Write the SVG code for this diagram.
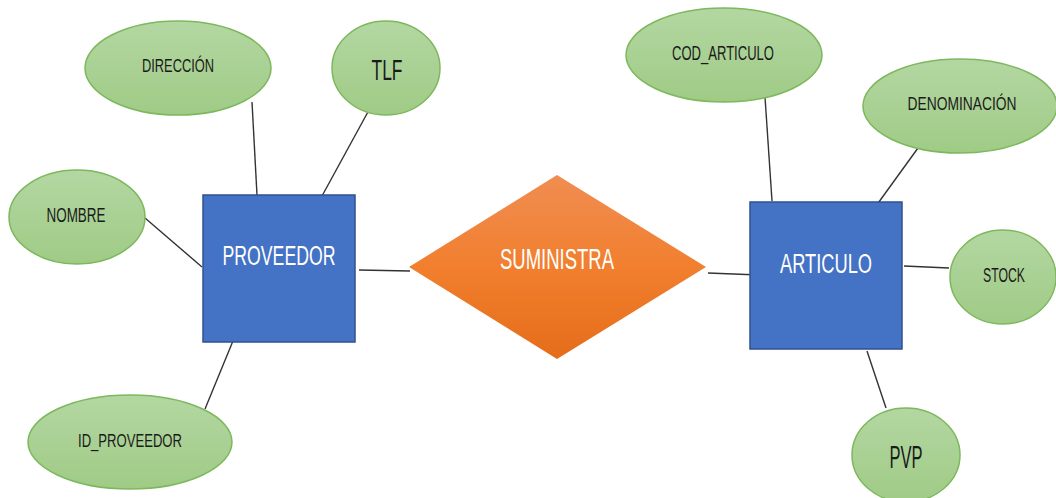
<svg xmlns="http://www.w3.org/2000/svg" width="1056" height="498" viewBox="0 0 1056 498">
  <defs>
    <linearGradient id="gAttr" x1="0" y1="0" x2="0" y2="1">
      <stop offset="0" stop-color="#B3D7A2"/>
      <stop offset="1" stop-color="#A0CB86"/>
    </linearGradient>
    <linearGradient id="gRel" x1="0" y1="0" x2="0" y2="1">
      <stop offset="0" stop-color="#F08D52"/>
      <stop offset="0.5" stop-color="#F17F2E"/>
      <stop offset="1" stop-color="#E56D1A"/>
    </linearGradient>
  </defs>
  <style>
    .attr { fill: url(#gAttr); stroke: #7DB85C; stroke-width: 1.5; }
    .ent { fill: #4472C4; stroke: #2F528F; stroke-width: 1.5; }
    .rel { fill: url(#gRel); stroke: none; }
    .lbl { font-family: "Liberation Sans", Arial, sans-serif; fill: #1A1A1A; text-anchor: middle; }
    .wlbl { font-family: "Liberation Sans", Arial, sans-serif; fill: #FFFFFF; text-anchor: middle; }
    .conn line { stroke: #333333; stroke-width: 1.4; }
  </style>

  <!-- connectors -->
  <g id="connectors" class="conn">
    <line x1="252" y1="102" x2="257" y2="195"/>
    <line x1="369" y1="110" x2="322" y2="196"/>
    <line x1="145" y1="218" x2="202" y2="267"/>
    <line x1="235" y1="336" x2="205" y2="409"/>
    <line x1="359" y1="270" x2="410" y2="271"/>
    <line x1="708" y1="273" x2="759" y2="275"/>
    <line x1="765" y1="97" x2="772" y2="201"/>
    <line x1="918" y1="148" x2="876" y2="206"/>
    <line x1="904" y1="266" x2="949" y2="268"/>
    <line x1="867" y1="351" x2="886" y2="408"/>
  </g>

  <!-- PROVEEDOR entity and its attributes -->
  <g id="proveedor">
    <rect class="ent" x="203" y="195" width="152" height="147"/>
    <text class="wlbl" x="279" y="265" font-size="27" textLength="113" lengthAdjust="spacingAndGlyphs">PROVEEDOR</text>
  </g>
  <g id="direccion">
    <ellipse class="attr" cx="178" cy="68" rx="93" ry="47"/>
    <text class="lbl" x="178" y="72" font-size="18" textLength="72" lengthAdjust="spacingAndGlyphs">DIRECCIÓN</text>
  </g>
  <g id="tlf">
    <ellipse class="attr" cx="386" cy="68" rx="54" ry="47"/>
    <text class="lbl" x="387" y="80" font-size="30" textLength="31" lengthAdjust="spacingAndGlyphs">TLF</text>
  </g>
  <g id="nombre">
    <ellipse class="attr" cx="77" cy="217" rx="68" ry="47"/>
    <text class="lbl" x="76" y="222" font-size="20" textLength="59" lengthAdjust="spacingAndGlyphs">NOMBRE</text>
  </g>
  <g id="id_proveedor">
    <ellipse class="attr" cx="130" cy="442" rx="102" ry="47"/>
    <text class="lbl" x="130" y="447" font-size="19" textLength="104" lengthAdjust="spacingAndGlyphs">ID_PROVEEDOR</text>
  </g>

  <!-- SUMINISTRA relationship -->
  <g id="suministra">
    <polygon class="rel" points="409,267 557,175 706,267 557,359"/>
    <text class="wlbl" x="557" y="269" font-size="30" textLength="114" lengthAdjust="spacingAndGlyphs">SUMINISTRA</text>
  </g>

  <!-- ARTICULO entity and its attributes -->
  <g id="articulo">
    <rect class="ent" x="750" y="202" width="152" height="147"/>
    <text class="wlbl" x="826" y="273" font-size="27" textLength="92" lengthAdjust="spacingAndGlyphs">ARTICULO</text>
  </g>
  <g id="cod_articulo">
    <ellipse class="attr" cx="724" cy="55" rx="98" ry="47"/>
    <text class="lbl" x="723" y="60" font-size="20" textLength="102" lengthAdjust="spacingAndGlyphs">COD_ARTICULO</text>
  </g>
  <g id="denominacion">
    <ellipse class="attr" cx="960" cy="106" rx="97" ry="47"/>
    <text class="lbl" x="962" y="110" font-size="19" textLength="109" lengthAdjust="spacingAndGlyphs">DENOMINACIÓN</text>
  </g>
  <g id="stock">
    <ellipse class="attr" cx="1003" cy="277" rx="53" ry="47"/>
    <text class="lbl" x="1004" y="282" font-size="20" textLength="42" lengthAdjust="spacingAndGlyphs">STOCK</text>
  </g>
  <g id="pvp">
    <ellipse class="attr" cx="906" cy="455" rx="54" ry="47"/>
    <text class="lbl" x="906" y="468" font-size="32" textLength="33" lengthAdjust="spacingAndGlyphs">PVP</text>
  </g>
</svg>
